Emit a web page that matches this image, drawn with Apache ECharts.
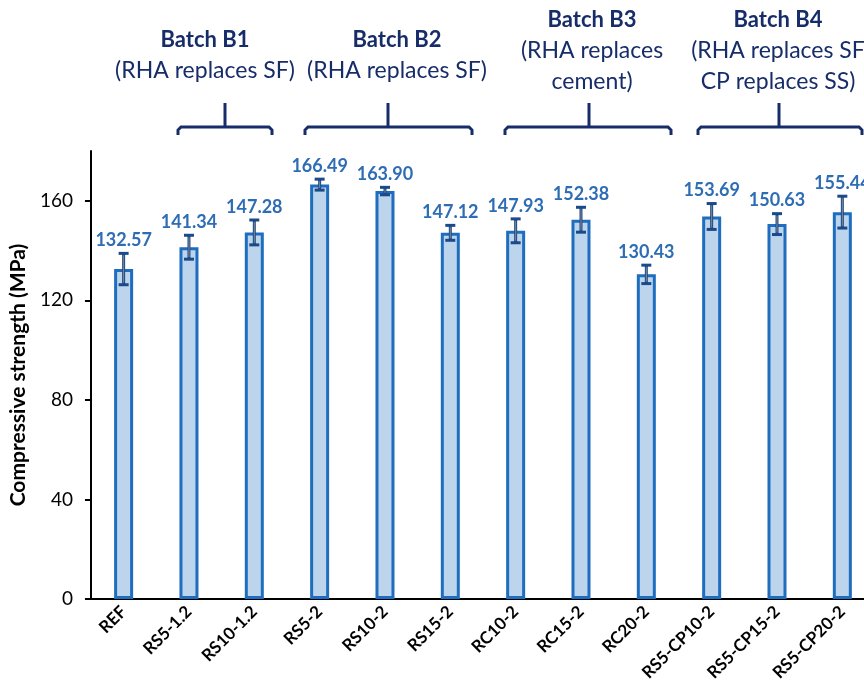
<!DOCTYPE html>
<html>
<head>
<meta charset="utf-8">
<script src="https://cdn.jsdelivr.net/npm/echarts@6/dist/echarts.min.js"></script>
<style>
  html, body { margin: 0; padding: 0; overflow: hidden; background: #fff; }
  #main { width: 880px; height: 694px; }
</style>
</head>
<body>
<div id="main"></div>
<script>
var categories = ['REF', 'RS5-1.2', 'RS10-1.2', 'RS5-2', 'RS10-2', 'RS15-2', 'RC10-2', 'RC15-2', 'RC20-2', 'RS5-CP10-2', 'RS5-CP15-2', 'RS5-CP20-2'];
var strength = [132.57, 141.34, 147.28, 166.49, 163.90, 147.12, 147.93, 152.38, 130.43, 153.69, 150.63, 155.44];
var errors = [6.3, 4.8, 5.0, 2.2, 1.5, 3.0, 4.8, 5.0, 3.7, 5.2, 4.2, 6.4];
var batchTitles = ['Batch B1', 'Batch B2', 'Batch B3', 'Batch B4'];
var batchNotes = [['(RHA replaces SF)'], ['(RHA replaces SF)'], ['(RHA replaces', 'cement)'], ['(RHA replaces SF', 'CP replaces SS)']];

var navy = '#172d69';
var font = 'Lato, "Open Sans", sans-serif';

var chart = echarts.init(document.getElementById('main'));

// headers + brackets (decoration)
var headerX = [205, 397, 592, 778];
var headerY = [40, 40, 20, 20];
var brackets = [[178, 272, 225], [305, 472, 388], [505, 671, 589], [698, 862, 779]];
var graphics = [];
for (var i = 0; i < batchTitles.length; i++) {
    graphics.push({
        type: 'text', x: headerX[i], y: headerY[i],
        style: { text: batchTitles[i], fill: navy, font: 'bold 22px ' + font, align: 'center', verticalAlign: 'middle' }
    });
    for (var j = 0; j < batchNotes[i].length; j++) {
        graphics.push({
            type: 'text', x: headerX[i], y: headerY[i] + 31 * (j + 1),
            style: { text: batchNotes[i][j], fill: navy, font: '23px ' + font, align: 'center', verticalAlign: 'middle' }
        });
    }
    var b = brackets[i];
    graphics.push({
        type: 'polyline',
        shape: { points: [[b[0], 135], [b[0], 130], [b[0] + 3, 127], [b[1] - 3, 127], [b[1], 130], [b[1], 135]] },
        style: { stroke: navy, lineWidth: 3, fill: null }
    });
    graphics.push({
        type: 'line',
        shape: { x1: b[2], y1: 103, x2: b[2], y2: 127 },
        style: { stroke: navy, lineWidth: 3 }
    });
}

var errData = strength.map(function (v, i) { return [i, v, v - errors[i], v + errors[i]]; });

option = {
    animation: false,
    grid: { left: 90, right: 5, top: 151, bottom: 95, containLabel: false },
    graphic: graphics,
    xAxis: {
        type: 'category',
        data: categories,
        axisLine: { lineStyle: { color: '#000', width: 2 } },
        axisTick: { show: false },
        axisLabel: { rotate: 45, margin: 10, color: '#000', fontWeight: 'bold', fontSize: 17, fontFamily: font, interval: 0 }
    },
    yAxis: {
        type: 'value',
        min: 0, max: 180, interval: 40,
        name: 'Compressive strength (MPa)',
        nameLocation: 'middle',
        nameGap: 56,
        nameTextStyle: { color: '#000', fontWeight: 'bold', fontSize: 21, fontFamily: font },
        axisLine: { show: true, lineStyle: { color: '#000', width: 2 } },
        axisTick: { show: true, length: 6, lineStyle: { color: '#000', width: 2 } },
        axisLabel: { color: '#000', fontSize: 19, fontFamily: font, margin: 18, showMaxLabel: false },
        splitLine: { show: false }
    },
    series: [{
        type: 'bar',
        data: strength,
        barWidth: 19,
        itemStyle: { color: '#bcd5ec', borderColor: '#1f6dbf', borderWidth: 3 }
    }, {
        type: 'custom',
        data: errData,
        z: 5,
        renderItem: function (params, api) {
            var hi = api.coord([api.value(0), api.value(3)]);
            var lo = api.coord([api.value(0), api.value(2)]);
            var x = hi[0], cap = 5;
            return {
                type: 'group',
                children: [
                    { type: 'line', shape: { x1: x, y1: hi[1], x2: x, y2: lo[1] }, style: { stroke: '#1a4a8a', lineWidth: 3 } },
                    { type: 'line', shape: { x1: x, y1: hi[1] + 2, x2: x, y2: lo[1] - 2 }, style: { stroke: '#8a8a8a', lineWidth: 1 } },
                    { type: 'line', shape: { x1: x - cap, y1: hi[1], x2: x + cap, y2: hi[1] }, style: { stroke: '#1a4a8a', lineWidth: 3 } },
                    { type: 'line', shape: { x1: x - cap, y1: lo[1], x2: x + cap, y2: lo[1] }, style: { stroke: '#1a4a8a', lineWidth: 3 } },
                    { type: 'text', x: x, y: hi[1] - 4, style: {
                        text: api.value(1).toFixed(2), fill: '#2e6db4', font: 'bold 18px ' + font,
                        align: 'center', verticalAlign: 'bottom' } }
                ]
            };
        }
    }]
};
chart.setOption(option);
window.addEventListener('resize', chart.resize);
</script>
</body>
</html>
